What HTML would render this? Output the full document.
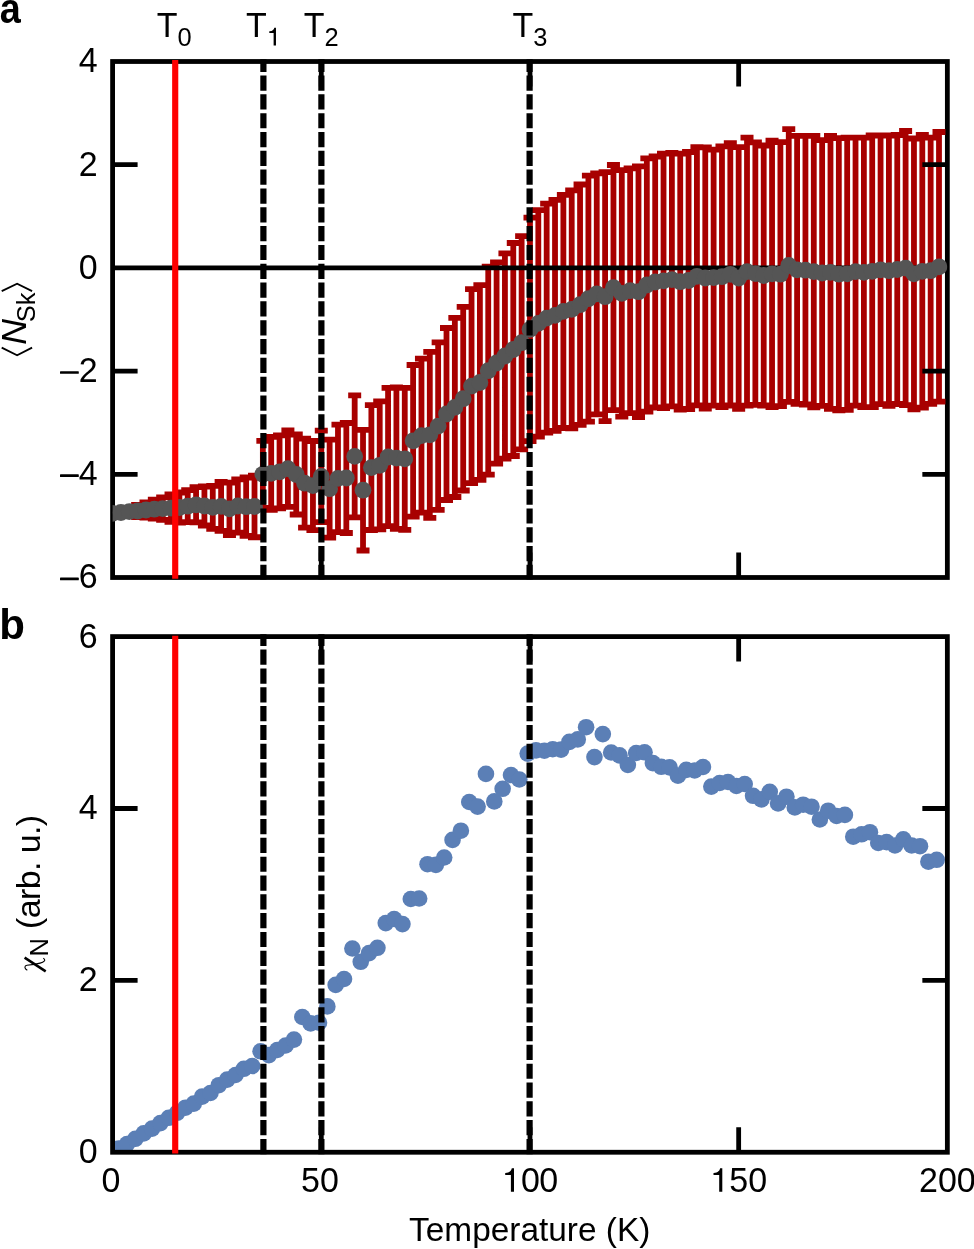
<!DOCTYPE html>
<html><head><meta charset="utf-8"><style>
html,body{margin:0;padding:0;background:#fff;width:974px;height:1249px;overflow:hidden}
svg{display:block;will-change:transform}
</style></head><body>
<svg width="974" height="1249" viewBox="0 0 974 1249">
<rect width="974" height="1249" fill="#fff"/>
<defs><clipPath id="ca"><rect x="112.6" y="61.5" width="834.75" height="516.0"/></clipPath><clipPath id="cb"><rect x="112.6" y="636.6" width="834.75" height="515.65"/></clipPath></defs>
<rect x="112.6" y="61.5" width="834.75" height="516.00" fill="none" stroke="#000" stroke-width="4.8"/>
<g clip-path="url(#ca)">
<path d="M120.95 510.00V515.00M129.29 508.10V515.10M137.64 505.00V517.00M145.99 502.30V517.70M154.34 499.75V518.65M162.69 497.30V519.90M171.03 494.30V521.90M179.38 492.50V522.50M187.73 490.20V522.20M196.07 487.20V522.40M204.42 486.50V525.50M212.77 485.90V528.90M221.12 482.00V530.80M229.46 482.60V535.00M237.81 479.40V532.60M246.16 477.50V535.90M254.51 475.75V537.25M262.86 440.80V507.80M271.20 436.80V509.80M279.55 435.40V508.40M287.90 430.50V506.90M296.25 434.50V514.50M304.59 438.70V527.70M312.94 441.00V530.20M321.29 430.60V522.20M329.63 439.70V537.70M337.98 424.60V532.20M346.33 423.00V533.00M354.68 395.40V517.40M363.02 429.90V550.50M371.37 405.20V530.00M379.72 401.30V529.30M388.07 387.80V526.20M396.41 387.30V528.90M404.76 387.80V529.80M413.11 365.00V516.60M421.46 358.60V512.60M429.80 351.80V517.80M438.15 342.30V509.90M446.50 328.00V500.00M454.85 317.80V497.00M463.20 306.90V490.50M471.54 289.10V483.10M479.89 285.20V479.80M488.24 266.70V474.70M496.59 262.30V463.70M504.93 253.30V458.70M513.28 243.00V456.00M521.63 236.10V449.30M529.98 217.70V441.10M538.32 210.10V436.70M546.67 203.60V432.60M555.02 199.90V430.90M563.37 194.80V428.00M571.71 190.40V428.40M580.06 184.50V424.90M588.41 175.70V421.70M596.75 173.30V414.30M605.10 172.20V421.20M613.45 165.00V410.20M621.80 170.20V416.60M630.14 168.30V413.10M638.49 166.30V417.10M646.84 158.30V411.70M655.19 156.50V407.50M663.53 153.60V408.20M671.88 152.90V406.30M680.23 153.70V409.70M688.58 152.00V409.00M696.93 147.20V405.40M705.27 147.40V408.60M713.62 149.60V405.60M721.97 146.40V407.00M730.32 143.10V405.50M738.66 147.20V408.80M747.01 137.60V405.60M755.36 142.40V404.80M763.71 145.50V405.50M772.05 140.60V407.20M780.40 142.20V406.20M788.75 129.10V401.90M797.10 135.80V403.80M805.44 135.90V404.50M813.79 135.90V407.30M822.14 140.20V405.80M830.49 135.90V408.90M838.83 138.10V410.30M847.18 137.70V409.90M855.53 137.60V405.60M863.88 137.60V407.20M872.22 135.50V407.10M880.57 135.50V404.10M888.92 135.50V405.90M897.26 135.00V404.00M905.61 131.00V405.20M913.96 138.50V409.30M922.31 135.00V407.60M930.65 137.60V403.80M939.00 132.00V401.60" stroke="#a80000" stroke-width="5.8" fill="none"/>
<path d="M114.45 510.00h13.0M114.45 515.00h13.0M122.79 508.10h13.0M122.79 515.10h13.0M131.14 505.00h13.0M131.14 517.00h13.0M139.49 502.30h13.0M139.49 517.70h13.0M147.84 499.75h13.0M147.84 518.65h13.0M156.19 497.30h13.0M156.19 519.90h13.0M164.53 494.30h13.0M164.53 521.90h13.0M172.88 492.50h13.0M172.88 522.50h13.0M181.23 490.20h13.0M181.23 522.20h13.0M189.57 487.20h13.0M189.57 522.40h13.0M197.92 486.50h13.0M197.92 525.50h13.0M206.27 485.90h13.0M206.27 528.90h13.0M214.62 482.00h13.0M214.62 530.80h13.0M222.96 482.60h13.0M222.96 535.00h13.0M231.31 479.40h13.0M231.31 532.60h13.0M239.66 477.50h13.0M239.66 535.90h13.0M248.01 475.75h13.0M248.01 537.25h13.0M256.36 440.80h13.0M256.36 507.80h13.0M264.70 436.80h13.0M264.70 509.80h13.0M273.05 435.40h13.0M273.05 508.40h13.0M281.40 430.50h13.0M281.40 506.90h13.0M289.75 434.50h13.0M289.75 514.50h13.0M298.09 438.70h13.0M298.09 527.70h13.0M306.44 441.00h13.0M306.44 530.20h13.0M314.79 430.60h13.0M314.79 522.20h13.0M323.13 439.70h13.0M323.13 537.70h13.0M331.48 424.60h13.0M331.48 532.20h13.0M339.83 423.00h13.0M339.83 533.00h13.0M348.18 395.40h13.0M348.18 517.40h13.0M356.52 429.90h13.0M356.52 550.50h13.0M364.87 405.20h13.0M364.87 530.00h13.0M373.22 401.30h13.0M373.22 529.30h13.0M381.57 387.80h13.0M381.57 526.20h13.0M389.91 387.30h13.0M389.91 528.90h13.0M398.26 387.80h13.0M398.26 529.80h13.0M406.61 365.00h13.0M406.61 516.60h13.0M414.96 358.60h13.0M414.96 512.60h13.0M423.30 351.80h13.0M423.30 517.80h13.0M431.65 342.30h13.0M431.65 509.90h13.0M440.00 328.00h13.0M440.00 500.00h13.0M448.35 317.80h13.0M448.35 497.00h13.0M456.70 306.90h13.0M456.70 490.50h13.0M465.04 289.10h13.0M465.04 483.10h13.0M473.39 285.20h13.0M473.39 479.80h13.0M481.74 266.70h13.0M481.74 474.70h13.0M490.09 262.30h13.0M490.09 463.70h13.0M498.43 253.30h13.0M498.43 458.70h13.0M506.78 243.00h13.0M506.78 456.00h13.0M515.13 236.10h13.0M515.13 449.30h13.0M523.48 217.70h13.0M523.48 441.10h13.0M531.82 210.10h13.0M531.82 436.70h13.0M540.17 203.60h13.0M540.17 432.60h13.0M548.52 199.90h13.0M548.52 430.90h13.0M556.87 194.80h13.0M556.87 428.00h13.0M565.21 190.40h13.0M565.21 428.40h13.0M573.56 184.50h13.0M573.56 424.90h13.0M581.91 175.70h13.0M581.91 421.70h13.0M590.25 173.30h13.0M590.25 414.30h13.0M598.60 172.20h13.0M598.60 421.20h13.0M606.95 165.00h13.0M606.95 410.20h13.0M615.30 170.20h13.0M615.30 416.60h13.0M623.64 168.30h13.0M623.64 413.10h13.0M631.99 166.30h13.0M631.99 417.10h13.0M640.34 158.30h13.0M640.34 411.70h13.0M648.69 156.50h13.0M648.69 407.50h13.0M657.03 153.60h13.0M657.03 408.20h13.0M665.38 152.90h13.0M665.38 406.30h13.0M673.73 153.70h13.0M673.73 409.70h13.0M682.08 152.00h13.0M682.08 409.00h13.0M690.43 147.20h13.0M690.43 405.40h13.0M698.77 147.40h13.0M698.77 408.60h13.0M707.12 149.60h13.0M707.12 405.60h13.0M715.47 146.40h13.0M715.47 407.00h13.0M723.82 143.10h13.0M723.82 405.50h13.0M732.16 147.20h13.0M732.16 408.80h13.0M740.51 137.60h13.0M740.51 405.60h13.0M748.86 142.40h13.0M748.86 404.80h13.0M757.21 145.50h13.0M757.21 405.50h13.0M765.55 140.60h13.0M765.55 407.20h13.0M773.90 142.20h13.0M773.90 406.20h13.0M782.25 129.10h13.0M782.25 401.90h13.0M790.60 135.80h13.0M790.60 403.80h13.0M798.94 135.90h13.0M798.94 404.50h13.0M807.29 135.90h13.0M807.29 407.30h13.0M815.64 140.20h13.0M815.64 405.80h13.0M823.99 135.90h13.0M823.99 408.90h13.0M832.33 138.10h13.0M832.33 410.30h13.0M840.68 137.70h13.0M840.68 409.90h13.0M849.03 137.60h13.0M849.03 405.60h13.0M857.38 137.60h13.0M857.38 407.20h13.0M865.72 135.50h13.0M865.72 407.10h13.0M874.07 135.50h13.0M874.07 404.10h13.0M882.42 135.50h13.0M882.42 405.90h13.0M890.76 135.00h13.0M890.76 404.00h13.0M899.11 131.00h13.0M899.11 405.20h13.0M907.46 138.50h13.0M907.46 409.30h13.0M915.81 135.00h13.0M915.81 407.60h13.0M924.15 137.60h13.0M924.15 403.80h13.0M932.50 132.00h13.0M932.50 401.60h13.0" stroke="#a80000" stroke-width="5.8" fill="none"/>
<line x1="112.6" x2="947.35" y1="267.90" y2="267.90" stroke="#000" stroke-width="4.8"/>
<circle cx="112.60" cy="513.40" r="8.4" fill="#555555"/>
<circle cx="120.95" cy="512.50" r="8.4" fill="#555555"/>
<circle cx="129.29" cy="511.60" r="8.4" fill="#555555"/>
<circle cx="137.64" cy="511.00" r="8.4" fill="#555555"/>
<circle cx="145.99" cy="510.00" r="8.4" fill="#555555"/>
<circle cx="154.34" cy="509.20" r="8.4" fill="#555555"/>
<circle cx="162.69" cy="508.60" r="8.4" fill="#555555"/>
<circle cx="171.03" cy="508.10" r="8.4" fill="#555555"/>
<circle cx="179.38" cy="507.50" r="8.4" fill="#555555"/>
<circle cx="187.73" cy="506.20" r="8.4" fill="#555555"/>
<circle cx="196.07" cy="504.80" r="8.4" fill="#555555"/>
<circle cx="204.42" cy="506.00" r="8.4" fill="#555555"/>
<circle cx="212.77" cy="507.40" r="8.4" fill="#555555"/>
<circle cx="221.12" cy="506.40" r="8.4" fill="#555555"/>
<circle cx="229.46" cy="508.80" r="8.4" fill="#555555"/>
<circle cx="237.81" cy="506.00" r="8.4" fill="#555555"/>
<circle cx="246.16" cy="506.70" r="8.4" fill="#555555"/>
<circle cx="254.51" cy="506.50" r="8.4" fill="#555555"/>
<circle cx="262.86" cy="474.30" r="8.4" fill="#555555"/>
<circle cx="271.20" cy="473.30" r="8.4" fill="#555555"/>
<circle cx="279.55" cy="471.90" r="8.4" fill="#555555"/>
<circle cx="287.90" cy="468.70" r="8.4" fill="#555555"/>
<circle cx="296.25" cy="474.50" r="8.4" fill="#555555"/>
<circle cx="304.59" cy="483.20" r="8.4" fill="#555555"/>
<circle cx="312.94" cy="485.60" r="8.4" fill="#555555"/>
<circle cx="321.29" cy="476.40" r="8.4" fill="#555555"/>
<circle cx="329.63" cy="488.70" r="8.4" fill="#555555"/>
<circle cx="337.98" cy="478.40" r="8.4" fill="#555555"/>
<circle cx="346.33" cy="478.00" r="8.4" fill="#555555"/>
<circle cx="354.68" cy="456.40" r="8.4" fill="#555555"/>
<circle cx="363.02" cy="490.20" r="8.4" fill="#555555"/>
<circle cx="371.37" cy="467.60" r="8.4" fill="#555555"/>
<circle cx="379.72" cy="465.30" r="8.4" fill="#555555"/>
<circle cx="388.07" cy="457.00" r="8.4" fill="#555555"/>
<circle cx="396.41" cy="458.10" r="8.4" fill="#555555"/>
<circle cx="404.76" cy="458.80" r="8.4" fill="#555555"/>
<circle cx="413.11" cy="440.80" r="8.4" fill="#555555"/>
<circle cx="421.46" cy="435.60" r="8.4" fill="#555555"/>
<circle cx="429.80" cy="434.80" r="8.4" fill="#555555"/>
<circle cx="438.15" cy="426.10" r="8.4" fill="#555555"/>
<circle cx="446.50" cy="414.00" r="8.4" fill="#555555"/>
<circle cx="454.85" cy="407.40" r="8.4" fill="#555555"/>
<circle cx="463.20" cy="398.70" r="8.4" fill="#555555"/>
<circle cx="471.54" cy="386.10" r="8.4" fill="#555555"/>
<circle cx="479.89" cy="382.50" r="8.4" fill="#555555"/>
<circle cx="488.24" cy="370.70" r="8.4" fill="#555555"/>
<circle cx="496.59" cy="363.00" r="8.4" fill="#555555"/>
<circle cx="504.93" cy="356.00" r="8.4" fill="#555555"/>
<circle cx="513.28" cy="349.50" r="8.4" fill="#555555"/>
<circle cx="521.63" cy="342.70" r="8.4" fill="#555555"/>
<circle cx="529.98" cy="329.40" r="8.4" fill="#555555"/>
<circle cx="538.32" cy="323.40" r="8.4" fill="#555555"/>
<circle cx="546.67" cy="318.10" r="8.4" fill="#555555"/>
<circle cx="555.02" cy="315.40" r="8.4" fill="#555555"/>
<circle cx="563.37" cy="311.40" r="8.4" fill="#555555"/>
<circle cx="571.71" cy="309.40" r="8.4" fill="#555555"/>
<circle cx="580.06" cy="304.70" r="8.4" fill="#555555"/>
<circle cx="588.41" cy="298.70" r="8.4" fill="#555555"/>
<circle cx="596.75" cy="293.80" r="8.4" fill="#555555"/>
<circle cx="605.10" cy="296.70" r="8.4" fill="#555555"/>
<circle cx="613.45" cy="287.60" r="8.4" fill="#555555"/>
<circle cx="621.80" cy="293.40" r="8.4" fill="#555555"/>
<circle cx="630.14" cy="290.70" r="8.4" fill="#555555"/>
<circle cx="638.49" cy="291.70" r="8.4" fill="#555555"/>
<circle cx="646.84" cy="285.00" r="8.4" fill="#555555"/>
<circle cx="655.19" cy="282.00" r="8.4" fill="#555555"/>
<circle cx="663.53" cy="280.90" r="8.4" fill="#555555"/>
<circle cx="671.88" cy="279.60" r="8.4" fill="#555555"/>
<circle cx="680.23" cy="281.70" r="8.4" fill="#555555"/>
<circle cx="688.58" cy="280.50" r="8.4" fill="#555555"/>
<circle cx="696.93" cy="276.30" r="8.4" fill="#555555"/>
<circle cx="705.27" cy="278.00" r="8.4" fill="#555555"/>
<circle cx="713.62" cy="277.60" r="8.4" fill="#555555"/>
<circle cx="721.97" cy="276.70" r="8.4" fill="#555555"/>
<circle cx="730.32" cy="274.30" r="8.4" fill="#555555"/>
<circle cx="738.66" cy="278.00" r="8.4" fill="#555555"/>
<circle cx="747.01" cy="271.60" r="8.4" fill="#555555"/>
<circle cx="755.36" cy="273.60" r="8.4" fill="#555555"/>
<circle cx="763.71" cy="275.50" r="8.4" fill="#555555"/>
<circle cx="772.05" cy="273.90" r="8.4" fill="#555555"/>
<circle cx="780.40" cy="274.20" r="8.4" fill="#555555"/>
<circle cx="788.75" cy="265.50" r="8.4" fill="#555555"/>
<circle cx="797.10" cy="269.80" r="8.4" fill="#555555"/>
<circle cx="805.44" cy="270.20" r="8.4" fill="#555555"/>
<circle cx="813.79" cy="271.60" r="8.4" fill="#555555"/>
<circle cx="822.14" cy="273.00" r="8.4" fill="#555555"/>
<circle cx="830.49" cy="272.40" r="8.4" fill="#555555"/>
<circle cx="838.83" cy="274.20" r="8.4" fill="#555555"/>
<circle cx="847.18" cy="273.80" r="8.4" fill="#555555"/>
<circle cx="855.53" cy="271.60" r="8.4" fill="#555555"/>
<circle cx="863.88" cy="272.40" r="8.4" fill="#555555"/>
<circle cx="872.22" cy="271.30" r="8.4" fill="#555555"/>
<circle cx="880.57" cy="269.80" r="8.4" fill="#555555"/>
<circle cx="888.92" cy="270.70" r="8.4" fill="#555555"/>
<circle cx="897.26" cy="269.50" r="8.4" fill="#555555"/>
<circle cx="905.61" cy="268.10" r="8.4" fill="#555555"/>
<circle cx="913.96" cy="273.90" r="8.4" fill="#555555"/>
<circle cx="922.31" cy="271.30" r="8.4" fill="#555555"/>
<circle cx="930.65" cy="270.70" r="8.4" fill="#555555"/>
<circle cx="939.00" cy="266.80" r="8.4" fill="#555555"/>
</g>
<path d="M112.6 164.70h25.0M947.35 164.70h-25.0M112.6 371.10h25.0M947.35 371.10h-25.0M112.6 474.30h25.0M947.35 474.30h-25.0M321.29 61.5v25.0M321.29 577.5v-25.0M529.98 61.5v25.0M529.98 577.5v-25.0M738.66 61.5v25.0M738.66 577.5v-25.0" stroke="#000" stroke-width="4.8" fill="none"/>
<line x1="175.21" x2="175.21" y1="60.0" y2="578.7" stroke="#ff0000" stroke-width="6.15"/>
<line x1="263.40" x2="263.40" y1="59.2" y2="579.5" stroke="#000" stroke-width="6.2" stroke-dasharray="15.2 3.62" stroke-dashoffset="2.5"/>
<line x1="321.39" x2="321.39" y1="59.2" y2="579.5" stroke="#000" stroke-width="6.2" stroke-dasharray="15.2 3.62" stroke-dashoffset="2.5"/>
<line x1="529.60" x2="529.60" y1="59.2" y2="579.5" stroke="#000" stroke-width="6.2" stroke-dasharray="15.2 3.62" stroke-dashoffset="2.5"/>
<g clip-path="url(#cb)">
<circle cx="118.65" cy="1148.60" r="8.3" fill="#5b7fb6"/>
<circle cx="127.00" cy="1144.00" r="8.3" fill="#5b7fb6"/>
<circle cx="135.35" cy="1138.80" r="8.3" fill="#5b7fb6"/>
<circle cx="143.69" cy="1133.40" r="8.3" fill="#5b7fb6"/>
<circle cx="152.04" cy="1128.60" r="8.3" fill="#5b7fb6"/>
<circle cx="160.39" cy="1123.10" r="8.3" fill="#5b7fb6"/>
<circle cx="168.74" cy="1117.80" r="8.3" fill="#5b7fb6"/>
<circle cx="177.08" cy="1112.80" r="8.3" fill="#5b7fb6"/>
<circle cx="185.43" cy="1107.70" r="8.3" fill="#5b7fb6"/>
<circle cx="193.78" cy="1103.60" r="8.3" fill="#5b7fb6"/>
<circle cx="202.13" cy="1096.60" r="8.3" fill="#5b7fb6"/>
<circle cx="210.47" cy="1093.00" r="8.3" fill="#5b7fb6"/>
<circle cx="218.82" cy="1085.20" r="8.3" fill="#5b7fb6"/>
<circle cx="227.17" cy="1079.60" r="8.3" fill="#5b7fb6"/>
<circle cx="235.52" cy="1075.00" r="8.3" fill="#5b7fb6"/>
<circle cx="243.86" cy="1068.80" r="8.3" fill="#5b7fb6"/>
<circle cx="252.21" cy="1066.00" r="8.3" fill="#5b7fb6"/>
<circle cx="260.56" cy="1051.30" r="8.3" fill="#5b7fb6"/>
<circle cx="268.91" cy="1055.10" r="8.3" fill="#5b7fb6"/>
<circle cx="277.25" cy="1050.00" r="8.3" fill="#5b7fb6"/>
<circle cx="285.60" cy="1045.50" r="8.3" fill="#5b7fb6"/>
<circle cx="293.95" cy="1039.60" r="8.3" fill="#5b7fb6"/>
<circle cx="302.30" cy="1017.00" r="8.3" fill="#5b7fb6"/>
<circle cx="310.64" cy="1023.40" r="8.3" fill="#5b7fb6"/>
<circle cx="318.99" cy="1022.70" r="8.3" fill="#5b7fb6"/>
<circle cx="327.34" cy="1006.40" r="8.3" fill="#5b7fb6"/>
<circle cx="335.69" cy="984.90" r="8.3" fill="#5b7fb6"/>
<circle cx="344.03" cy="979.00" r="8.3" fill="#5b7fb6"/>
<circle cx="352.38" cy="948.50" r="8.3" fill="#5b7fb6"/>
<circle cx="360.73" cy="961.80" r="8.3" fill="#5b7fb6"/>
<circle cx="369.08" cy="953.10" r="8.3" fill="#5b7fb6"/>
<circle cx="377.42" cy="947.80" r="8.3" fill="#5b7fb6"/>
<circle cx="385.77" cy="923.10" r="8.3" fill="#5b7fb6"/>
<circle cx="394.12" cy="919.00" r="8.3" fill="#5b7fb6"/>
<circle cx="402.47" cy="924.10" r="8.3" fill="#5b7fb6"/>
<circle cx="410.81" cy="899.00" r="8.3" fill="#5b7fb6"/>
<circle cx="419.16" cy="898.50" r="8.3" fill="#5b7fb6"/>
<circle cx="427.51" cy="864.20" r="8.3" fill="#5b7fb6"/>
<circle cx="435.86" cy="864.90" r="8.3" fill="#5b7fb6"/>
<circle cx="444.20" cy="857.50" r="8.3" fill="#5b7fb6"/>
<circle cx="452.55" cy="839.90" r="8.3" fill="#5b7fb6"/>
<circle cx="460.90" cy="830.70" r="8.3" fill="#5b7fb6"/>
<circle cx="469.25" cy="802.00" r="8.3" fill="#5b7fb6"/>
<circle cx="477.59" cy="806.60" r="8.3" fill="#5b7fb6"/>
<circle cx="485.94" cy="773.90" r="8.3" fill="#5b7fb6"/>
<circle cx="494.29" cy="801.40" r="8.3" fill="#5b7fb6"/>
<circle cx="502.64" cy="788.80" r="8.3" fill="#5b7fb6"/>
<circle cx="510.98" cy="775.00" r="8.3" fill="#5b7fb6"/>
<circle cx="519.33" cy="779.50" r="8.3" fill="#5b7fb6"/>
<circle cx="527.68" cy="753.60" r="8.3" fill="#5b7fb6"/>
<circle cx="536.03" cy="750.40" r="8.3" fill="#5b7fb6"/>
<circle cx="544.37" cy="750.70" r="8.3" fill="#5b7fb6"/>
<circle cx="552.72" cy="749.20" r="8.3" fill="#5b7fb6"/>
<circle cx="561.07" cy="749.60" r="8.3" fill="#5b7fb6"/>
<circle cx="569.42" cy="741.90" r="8.3" fill="#5b7fb6"/>
<circle cx="577.76" cy="739.40" r="8.3" fill="#5b7fb6"/>
<circle cx="586.11" cy="727.20" r="8.3" fill="#5b7fb6"/>
<circle cx="594.46" cy="757.10" r="8.3" fill="#5b7fb6"/>
<circle cx="602.81" cy="734.10" r="8.3" fill="#5b7fb6"/>
<circle cx="611.15" cy="752.50" r="8.3" fill="#5b7fb6"/>
<circle cx="619.50" cy="755.40" r="8.3" fill="#5b7fb6"/>
<circle cx="627.85" cy="765.00" r="8.3" fill="#5b7fb6"/>
<circle cx="636.20" cy="753.00" r="8.3" fill="#5b7fb6"/>
<circle cx="644.54" cy="752.30" r="8.3" fill="#5b7fb6"/>
<circle cx="652.89" cy="763.10" r="8.3" fill="#5b7fb6"/>
<circle cx="661.24" cy="766.80" r="8.3" fill="#5b7fb6"/>
<circle cx="669.59" cy="767.40" r="8.3" fill="#5b7fb6"/>
<circle cx="677.93" cy="775.70" r="8.3" fill="#5b7fb6"/>
<circle cx="686.28" cy="769.90" r="8.3" fill="#5b7fb6"/>
<circle cx="694.63" cy="770.50" r="8.3" fill="#5b7fb6"/>
<circle cx="702.98" cy="767.00" r="8.3" fill="#5b7fb6"/>
<circle cx="711.32" cy="786.60" r="8.3" fill="#5b7fb6"/>
<circle cx="719.67" cy="783.00" r="8.3" fill="#5b7fb6"/>
<circle cx="728.02" cy="782.00" r="8.3" fill="#5b7fb6"/>
<circle cx="736.37" cy="786.00" r="8.3" fill="#5b7fb6"/>
<circle cx="744.71" cy="784.00" r="8.3" fill="#5b7fb6"/>
<circle cx="753.06" cy="795.80" r="8.3" fill="#5b7fb6"/>
<circle cx="761.41" cy="799.40" r="8.3" fill="#5b7fb6"/>
<circle cx="769.76" cy="791.80" r="8.3" fill="#5b7fb6"/>
<circle cx="778.10" cy="803.40" r="8.3" fill="#5b7fb6"/>
<circle cx="786.45" cy="796.70" r="8.3" fill="#5b7fb6"/>
<circle cx="794.80" cy="807.40" r="8.3" fill="#5b7fb6"/>
<circle cx="803.15" cy="804.70" r="8.3" fill="#5b7fb6"/>
<circle cx="811.49" cy="806.70" r="8.3" fill="#5b7fb6"/>
<circle cx="819.84" cy="819.50" r="8.3" fill="#5b7fb6"/>
<circle cx="828.19" cy="810.70" r="8.3" fill="#5b7fb6"/>
<circle cx="836.54" cy="816.00" r="8.3" fill="#5b7fb6"/>
<circle cx="844.88" cy="814.90" r="8.3" fill="#5b7fb6"/>
<circle cx="853.23" cy="836.70" r="8.3" fill="#5b7fb6"/>
<circle cx="861.58" cy="834.30" r="8.3" fill="#5b7fb6"/>
<circle cx="869.93" cy="832.20" r="8.3" fill="#5b7fb6"/>
<circle cx="878.27" cy="843.00" r="8.3" fill="#5b7fb6"/>
<circle cx="886.62" cy="842.10" r="8.3" fill="#5b7fb6"/>
<circle cx="894.97" cy="845.50" r="8.3" fill="#5b7fb6"/>
<circle cx="903.32" cy="839.30" r="8.3" fill="#5b7fb6"/>
<circle cx="911.66" cy="845.50" r="8.3" fill="#5b7fb6"/>
<circle cx="920.01" cy="846.20" r="8.3" fill="#5b7fb6"/>
<circle cx="928.36" cy="861.70" r="8.3" fill="#5b7fb6"/>
<circle cx="936.71" cy="859.80" r="8.3" fill="#5b7fb6"/>
</g>
<rect x="112.6" y="636.6" width="834.75" height="515.65" fill="none" stroke="#000" stroke-width="4.8"/>
<path d="M112.6 980.37h25.0M947.35 980.37h-25.0M112.6 808.48h25.0M947.35 808.48h-25.0M321.29 636.6v25.0M321.29 1152.25v-25.0M529.98 636.6v25.0M529.98 1152.25v-25.0M738.66 636.6v25.0M738.66 1152.25v-25.0" stroke="#000" stroke-width="4.8" fill="none"/>
<line x1="175.21" x2="175.21" y1="635.8" y2="1153.5" stroke="#ff0000" stroke-width="6.15"/>
<line x1="263.40" x2="263.40" y1="634.2" y2="1154.5" stroke="#000" stroke-width="6.2" stroke-dasharray="15.2 3.62" stroke-dashoffset="3.4"/>
<line x1="321.39" x2="321.39" y1="634.2" y2="1154.5" stroke="#000" stroke-width="6.2" stroke-dasharray="15.2 3.62" stroke-dashoffset="3.4"/>
<line x1="529.60" x2="529.60" y1="634.2" y2="1154.5" stroke="#000" stroke-width="6.2" stroke-dasharray="15.2 3.62" stroke-dashoffset="3.4"/>
<text transform="translate(97.6,72.40) scale(1,1.045)" font-size="34" text-anchor="end" font-family="Liberation Sans, sans-serif" >4</text>
<text transform="translate(97.6,175.60) scale(1,1.045)" font-size="34" text-anchor="end" font-family="Liberation Sans, sans-serif" >2</text>
<text transform="translate(97.6,278.80) scale(1,1.045)" font-size="34" text-anchor="end" font-family="Liberation Sans, sans-serif" >0</text>
<text transform="translate(97.6,382.00) scale(1,1.045)" font-size="34" text-anchor="end" font-family="Liberation Sans, sans-serif" >2</text>
<rect x="60.0" y="371.15" width="18.799999999999997" height="2.7" rx="0.6" fill="#000"/>
<text transform="translate(97.6,485.20) scale(1,1.045)" font-size="34" text-anchor="end" font-family="Liberation Sans, sans-serif" >4</text>
<rect x="60.0" y="474.35" width="18.799999999999997" height="2.7" rx="0.6" fill="#000"/>
<text transform="translate(97.6,588.40) scale(1,1.045)" font-size="34" text-anchor="end" font-family="Liberation Sans, sans-serif" >6</text>
<rect x="60.0" y="577.55" width="18.799999999999997" height="2.7" rx="0.6" fill="#000"/>
<text transform="translate(97.6,647.50) scale(1,1.045)" font-size="34" text-anchor="end" font-family="Liberation Sans, sans-serif" >6</text>
<text transform="translate(97.6,819.38) scale(1,1.045)" font-size="34" text-anchor="end" font-family="Liberation Sans, sans-serif" >4</text>
<text transform="translate(97.6,991.27) scale(1,1.045)" font-size="34" text-anchor="end" font-family="Liberation Sans, sans-serif" >2</text>
<text transform="translate(97.6,1163.15) scale(1,1.045)" font-size="34" text-anchor="end" font-family="Liberation Sans, sans-serif" >0</text>
<text transform="translate(111.0,1192.0) scale(1,1.045)" font-size="34" text-anchor="middle" font-family="Liberation Sans, sans-serif" >0</text>
<text transform="translate(320.00,1192.0) scale(1,1.045)" font-size="34" text-anchor="middle" font-family="Liberation Sans, sans-serif" >50</text>
<path transform="translate(505.20,1191.80) scale(1.0)" d="M5.7 0H8.8V-23.6H6.6C6.2-21.3 4.6-19.2 0.3-18.9L0-18.8V-16.7H5.7Z" fill="#000"/>
<text transform="translate(521.0,1192.0) scale(1,1.045)" font-size="34" text-anchor="start" font-family="Liberation Sans, sans-serif" letter-spacing="-0.6">00</text>
<path transform="translate(713.50,1191.80) scale(1.0)" d="M5.7 0H8.8V-23.6H6.6C6.2-21.3 4.6-19.2 0.3-18.9L0-18.8V-16.7H5.7Z" fill="#000"/>
<text transform="translate(729.3,1192.0) scale(1,1.045)" font-size="34" text-anchor="start" font-family="Liberation Sans, sans-serif" >50</text>
<text transform="translate(947.35,1192.0) scale(1,1.045)" font-size="34" text-anchor="middle" font-family="Liberation Sans, sans-serif" >200</text>
<text transform="translate(529.7,1241.2) scale(1,1.0)" font-size="33.4" text-anchor="middle" font-family="Liberation Sans, sans-serif" >Temperature (K)</text>
<text x="0" y="22.6" font-size="42" font-weight="bold" transform="translate(-0.2,0) scale(0.9,1)" font-family="Liberation Sans, sans-serif">a</text>
<text x="-0.7" y="639.2" font-size="42" font-weight="bold" font-family="Liberation Sans, sans-serif">b</text>
<text transform="translate(174.3,37.0) scale(1,1.045)" font-size="34" text-anchor="middle" font-family="Liberation Sans, sans-serif">T<tspan font-size="25.5" dy="8.6">0</tspan></text>
<text transform="translate(321.3,37.0) scale(1,1.045)" font-size="34" text-anchor="middle" font-family="Liberation Sans, sans-serif">T<tspan font-size="25.5" dy="8.6">2</tspan></text>
<text transform="translate(530.0,37.0) scale(1,1.045)" font-size="34" text-anchor="middle" font-family="Liberation Sans, sans-serif">T<tspan font-size="25.5" dy="8.6">3</tspan></text>
<text transform="translate(245.9,37.0) scale(1,1.045)" font-size="34" font-family="Liberation Sans, sans-serif">T</text>
<path transform="translate(269.30,45.60) scale(0.758)" d="M5.7 0H8.8V-23.6H6.6C6.2-21.3 4.6-19.2 0.3-18.9L0-18.8V-16.7H5.7Z" fill="#000"/>
<g transform="translate(26.3,344.8) rotate(-90)"><text x="0" y="0" font-size="35.5" font-style="italic" font-family="Liberation Sans, sans-serif">N</text></g>
<g transform="translate(35.2,322.3) rotate(-90)"><text x="0" y="0" font-size="25.5" font-family="Liberation Sans, sans-serif">Sk</text></g>
<path d="M1.7 291.1L17.1 283.7L32.1 291.1M1.7 347.6L17.1 355.3L32.1 347.6" stroke="#000" stroke-width="1.8" fill="none"/>
<g transform="translate(39.6,929.0) rotate(-90)"><text x="0" y="0" font-size="34" letter-spacing="-0.62" font-family="Liberation Sans, sans-serif">(arb. u.)</text></g>
<g transform="translate(47.5,956.4) rotate(-90)"><text x="0" y="0" font-size="25.5" font-family="Liberation Sans, sans-serif">N</text></g>
<path d="M24.6 957.6L45.7 971.4" stroke="#000" stroke-width="2.5" fill="none"/>
<path d="M27.3 970.3C24.0 968.6 24.3 965.6 27.0 965.3C30 965 36 964.2 40.1 963.1C43.5 962.2 46.6 960.4 43.3 958.3" stroke="#000" stroke-width="1.1" fill="none"/>
</svg>
</body></html>
